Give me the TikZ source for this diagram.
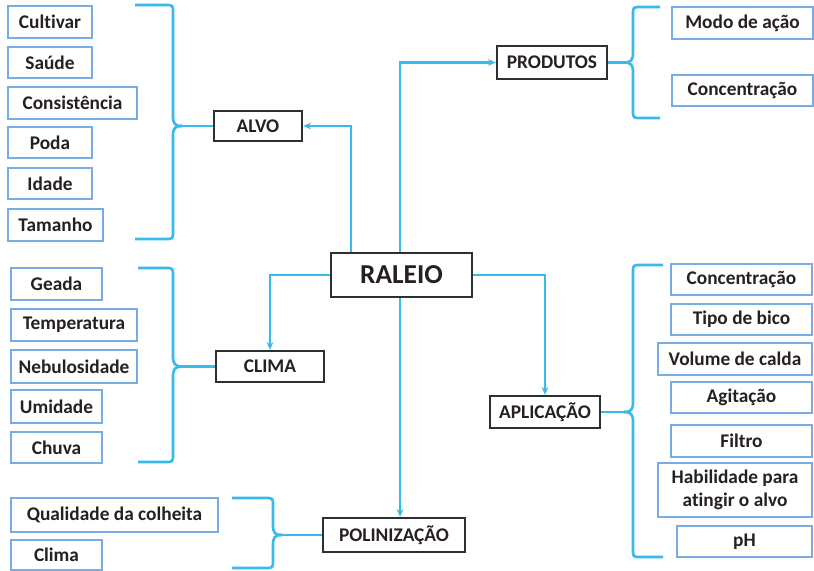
\documentclass[tikz,border=0pt]{standalone}
\usepackage{fontspec}
\setmainfont[Ligatures=NoCommon]{Carlito}
\usetikzlibrary{arrows.meta}
\definecolor{linkblue}{RGB}{58,186,236}
\definecolor{leafblue}{RGB}{122,172,228}
\definecolor{boxgray}{RGB}{45,48,50}
\definecolor{txtgray}{RGB}{38,32,30}
\tikzset{every picture/.style={line width=0.75pt}}
\tikzset{
  leaf/.style={draw=leafblue, line width=1.5pt, fill=white, inner sep=0pt, minimum height=23.25pt,
    text=txtgray, align=center, font=\fontsize{14.5}{17}\selectfont\bfseries},
  topic/.style={draw=boxgray, line width=1.6pt, fill=white, inner sep=0pt,
    text=txtgray, font=\fontsize{14.5}{17}\selectfont\bfseries},
  link/.style={draw=linkblue, line width=2pt, -{Stealth[length=6pt,width=5pt]}},
  twig/.style={draw=linkblue, line width=2pt}
}

\begin{document}
\begin{tikzpicture}[x=0.75pt,y=0.75pt,yscale=-1,xscale=1]
%set diagram to 814 x 571
\fill[white] (0,0) rectangle (814,571);
\useasboundingbox (0,0) rectangle (814,571);

% Main Node
\node [topic, line width=1.8pt, minimum width=105.75pt, minimum height=33pt, font=\fontsize{20.5}{24}\selectfont\bfseries] (raleio) at (401.5,275) {RALEIO};
% Topic Nodes
\node [topic, minimum width=66pt, minimum height=22.5pt] (alvo) at (258,126) {ALVO};
\node [topic, minimum width=82.5pt, minimum height=24.75pt] (produtos) at (552,62.5) {PRODUTOS};
\node [topic, minimum width=81pt, minimum height=23.25pt] (clima) at (270,366.5) {CLIMA};
\node [topic, minimum width=82.5pt, minimum height=24pt] (aplicacao) at (545,412) {APLICAÇÃO};
\node [topic, minimum width=106.5pt, minimum height=25.5pt] (polinizacao) at (394,535) {POLINIZAÇÃO};

%Straight Lines: arrows from RALEIO
\draw [link] ([xshift=-37.9pt]raleio.north) |- (alvo);
\draw [link] ([xshift=-1.1pt]raleio.north) |- (produtos);
\draw [link] (raleio) -| (clima);
\draw [link] (raleio) -| (aplicacao);
\draw [link] ([xshift=-1.1pt]raleio.south) -- ([xshift=-1.1pt]raleio.south |- polinizacao.north);

% Leaf Nodes: ALVO
\node [leaf, minimum width=63pt, minimum height=24pt] (cultivar) at (50,22) {Cultivar};
\node [leaf, minimum width=63pt] (saude) at (50,62.5) {Saúde};
\node [leaf, minimum width=96.75pt, minimum height=24pt] (consist) at (72.5,103) {Consistência};
\node [leaf, minimum width=63pt] (poda) at (50,142.5) {Poda};
\node [leaf, minimum width=63pt] (idade) at (50,183.5) {Idade};
\node [leaf, minimum width=71.25pt, minimum height=24pt] (tamanho) at (55.5,225) {Tamanho};

% Leaf Nodes: CLIMA
\node [leaf, minimum width=68.25pt, minimum height=24pt] (geada) at (56.5,284) {Geada};
\node [leaf, minimum width=94.5pt, minimum height=24pt] (temper) at (74,325) {Temperatura};
\node [leaf, minimum width=94.5pt, minimum height=24.75pt] (nebulos) at (74,366.5) {Nebulosidade};
\node [leaf, minimum width=68.25pt, minimum height=24.75pt] (umidade) at (56.5,406.5) {Umidade};
\node [leaf, minimum width=68.25pt] (chuva) at (56.5,447.5) {Chuva};

% Leaf Nodes: POLINIZACAO
\node [leaf, minimum width=155.25pt, minimum height=25.5pt] (qualid) at (114.5,515) {Qualidade da colheita};
\node [leaf, minimum width=68.25pt, minimum height=22.5pt] (climab) at (56.5,555) {Clima};

% Leaf Nodes: PRODUTOS
\node [leaf, minimum width=105.75pt, minimum height=24pt] (modo) at (742.5,23) {Modo de ação};
\node [leaf, minimum width=105.75pt] (concprod) at (742.5,90.5) {Concentração};

% Leaf Nodes: APLICACAO
\node [leaf, minimum width=105.75pt] (concapl) at (741.5,279.5) {Concentração};
\node [leaf, minimum width=105.75pt] (bico) at (741.5,319.5) {Tipo de bico};
\node [leaf, minimum width=115.5pt, minimum height=24pt] (volume) at (735,359) {Volume de calda};
\node [leaf, minimum width=105.75pt] (agitacao) at (741.5,397.5) {Agitação};
\node [leaf, minimum width=105.75pt, minimum height=24pt] (filtro) at (741.5,441) {Filtro};
\node [leaf, minimum width=115.5pt, minimum height=40.5pt] (habil) at (735,490) {Habilidade para\\atingir o alvo};
\node [leaf, minimum width=101.25pt] (ph) at (744.5,541.5) {pH};

%Shape: Brace ALVO
\draw [twig] (135,5) -- (165,5) .. controls (173,5) .. (173,13) -- (173,116) .. controls (173,124) and (175,126) .. (182,126) ;
\draw [twig] (135,239) -- (165,239) .. controls (173,239) .. (173,231) -- (173,136) .. controls (173,128) and (175,126) .. (182,126) ;
\coordinate (alvob) at (182,126);
\draw [twig] (alvob) -- (alvo);

%Shape: Brace CLIMA
\draw [twig] (138,268) -- (165,268) .. controls (173,268) .. (173,276) -- (173,356) .. controls (173,364) and (175,366.5) .. (182,366.5) ;
\draw [twig] (138,462) -- (165,462) .. controls (173,462) .. (173,454) -- (173,377) .. controls (173,369) and (175,366.5) .. (182,366.5) ;
\coordinate (climabr) at (182,366.5);
\draw [twig] (climabr) -- (clima);

%Shape: Brace POLINIZACAO
\draw [twig] (232,498) -- (265,498) .. controls (273,498) .. (273,506) -- (273,525) .. controls (273,533) and (275,535) .. (282,535) ;
\draw [twig] (232,568) -- (265,568) .. controls (273,568) .. (273,560) -- (273,545) .. controls (273,537) and (275,535) .. (282,535) ;
\coordinate (polinb) at (282,535);
\draw [twig] (polinb) -- (polinizacao);

%Shape: Brace PRODUTOS
\draw [twig] (660,7) -- (641,7) .. controls (633,7) .. (633,15) -- (633,52.5) .. controls (633,60.5) and (631,62.5) .. (624,62.5) ;
\draw [twig] (660,118) -- (641,118) .. controls (633,118) .. (633,110) -- (633,72.5) .. controls (633,64.5) and (631,62.5) .. (624,62.5) ;
\coordinate (produtosb) at (624,62.5);
\draw [twig] (produtosb) -- (produtos);

%Shape: Brace APLICACAO
\draw [twig] (663,265) -- (641,265) .. controls (633,265) .. (633,273) -- (633,402) .. controls (633,410) and (631,412) .. (624,412) ;
\draw [twig] (663,557) -- (641,557) .. controls (633,557) .. (633,549) -- (633,422) .. controls (633,414) and (631,412) .. (624,412) ;
\coordinate (aplicb) at (624,412);
\draw [twig] (aplicb) -- (aplicacao);
\end{tikzpicture}
\end{document}
